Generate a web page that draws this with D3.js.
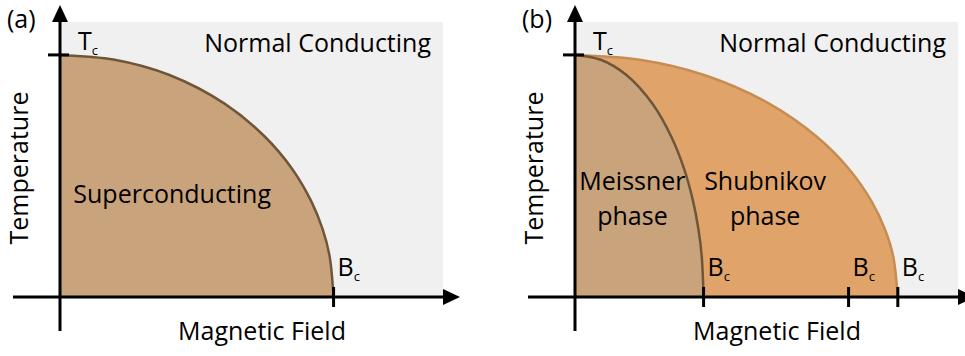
<!DOCTYPE html>
<html><head><meta charset="utf-8">
<script src="https://cdn.jsdelivr.net/npm/d3@7/dist/d3.min.js"></script>
<style>
html,body{margin:0;padding:0;background:#fff;}
svg{display:block;font-family:"Open Sans","Noto Sans",sans-serif;}
</style></head>
<body>
<svg id="chart" width="965" height="356"></svg>
<script>
// ---- data (normalised units: B/Bc(ref), T/Tc) ----
const panelLabels = ["(a)", "(b)"];
const tcValue = 1.0;
// boundary shape: fraction of critical field vs fraction of Tc
const boundaryB = [0, 0.2, 0.4, 0.6, 0.75, 0.85, 0.92, 0.96, 0.985, 1.0];
const boundaryT = [1, 0.98, 0.917, 0.8, 0.661, 0.527, 0.392, 0.28, 0.172, 0];
// panel (a): single critical field
const criticalA = [1.0];
// panel (b): lower critical field, ref tick, upper critical field
const criticalB = [0.47, 1.0, 1.18];
const regionLabelsA = ["Superconducting"];
const regionLabelsB = [["Meissner", "phase"], ["Shubnikov", "phase"]];
const normalText = "Normal Conducting";
const xTitle = "Magnetic Field";
const yTitle = "Temperature";

const svg = d3.select("#chart");
const W = 383;            // plot width in px
const yTop = 22, yBase = 297;
const y = d3.scaleLinear().domain([0, 1.136]).range([yBase, yTop]);

const grey = "#f0f0f0";
const fillSC = "#c9a37b";
const fillSh = "#e0a46b";
const strokeSC = "#6f5639";
const strokeSh = "#c68c50";

function boundaryPts(bc) {
  return boundaryB.map((b, i) => [b * bc, boundaryT[i] * tcValue]);
}

function panel(x0, criticals, idx) {
  const g = svg.append("g");
  const x = d3.scaleLinear().domain([0, 1.4]).range([x0, x0 + W]);
  const area = d3.area().x(d => x(d[0])).y0(y(0)).y1(d => y(d[1])).curve(d3.curveCatmullRom.alpha(0.5));
  const line = d3.line().x(d => x(d[0])).y(d => y(d[1])).curve(d3.curveCatmullRom.alpha(0.5));

  g.append("rect").attr("x", x(0)).attr("y", yTop).attr("width", W).attr("height", yBase - yTop).attr("fill", grey);

  if (idx === 0) {
    const pts = boundaryPts(criticals[0]);
    g.append("path").attr("d", area(pts)).attr("fill", fillSC);
    g.append("path").attr("d", line(pts)).attr("fill", "none").attr("stroke", strokeSC).attr("stroke-width", 2.5);
  } else {
    const outer = boundaryPts(criticals[2]);
    const inner = boundaryPts(criticals[0]);
    g.append("path").attr("d", area(outer)).attr("fill", fillSh);
    g.append("path").attr("d", line(outer)).attr("fill", "none").attr("stroke", strokeSh).attr("stroke-width", 2.5);
    g.append("path").attr("d", area(inner)).attr("fill", fillSC);
    g.append("path").attr("d", line(inner)).attr("fill", "none").attr("stroke", strokeSC).attr("stroke-width", 2.5);
  }

  // axes
  const ax = g.append("g").attr("stroke", "#000").attr("stroke-width", 3);
  ax.append("line").attr("x1", x0 - 47).attr("x2", x0 + W).attr("y1", y(0)).attr("y2", y(0));
  ax.append("line").attr("x1", x0).attr("x2", x0).attr("y1", 331).attr("y2", yTop);
  g.append("path").attr("d", `M${x0 + W},${y(0) - 8}L${x0 + W + 17},${y(0)}L${x0 + W},${y(0) + 8}Z`).attr("fill", "#000");
  g.append("path").attr("d", `M${x0 - 8},${yTop}L${x0},${yTop - 17}L${x0 + 8},${yTop}Z`).attr("fill", "#000");
  // Tc tick
  ax.append("line").attr("x1", x0 - 12).attr("x2", x0 + 9).attr("y1", y(tcValue)).attr("y2", y(tcValue));
  // Bc ticks
  criticals.forEach(c => {
    ax.append("line").attr("x1", x(c)).attr("x2", x(c)).attr("y1", y(0) - 10).attr("y2", y(0) + 10);
  });

  const fs = 25;
  // labels
  g.append("text").attr("x", x0 - 53).attr("y", 28).attr("font-size", 25).text(panelLabels[idx]);
  const tc = g.append("text").attr("x", x0 + 18).attr("y", 50).attr("font-size", fs);
  tc.append("tspan").text("T");
  tc.append("tspan").attr("font-size", 13).attr("dy", 5).text("c");
  criticals.forEach(c => {
    const t = g.append("text").attr("x", x(c) + 4).attr("y", 276).attr("font-size", fs);
    t.append("tspan").text("B");
    t.append("tspan").attr("font-size", 13).attr("dy", 5).text("c");
  });
  g.append("text").attr("x", x0 + W - 12).attr("y", 52).attr("text-anchor", "end").attr("font-size", fs).text(normalText);
  g.append("text").attr("x", x0 + 202).attr("y", 340).attr("text-anchor", "middle").attr("font-size", fs).text(xTitle);
  g.append("text").attr("transform", `translate(${x0 - 32},168) rotate(-90)`).attr("text-anchor", "middle").attr("font-size", fs).text(yTitle);

  if (idx === 0) {
    g.append("text").attr("x", x(0.41)).attr("y", 203).attr("text-anchor", "middle").attr("font-size", fs).text(regionLabelsA[0]);
  } else {
    const cx = [x(0.21), x(0.695)];
    regionLabelsB.forEach((lines, i) => {
      lines.forEach((l, j) => {
        g.append("text").attr("x", cx[i]).attr("y", 190 + j * 35).attr("text-anchor", "middle").attr("font-size", fs).text(l);
      });
    });
  }
}

panel(60, criticalA, 0);
panel(575, criticalB, 1);
</script>
</body></html>
